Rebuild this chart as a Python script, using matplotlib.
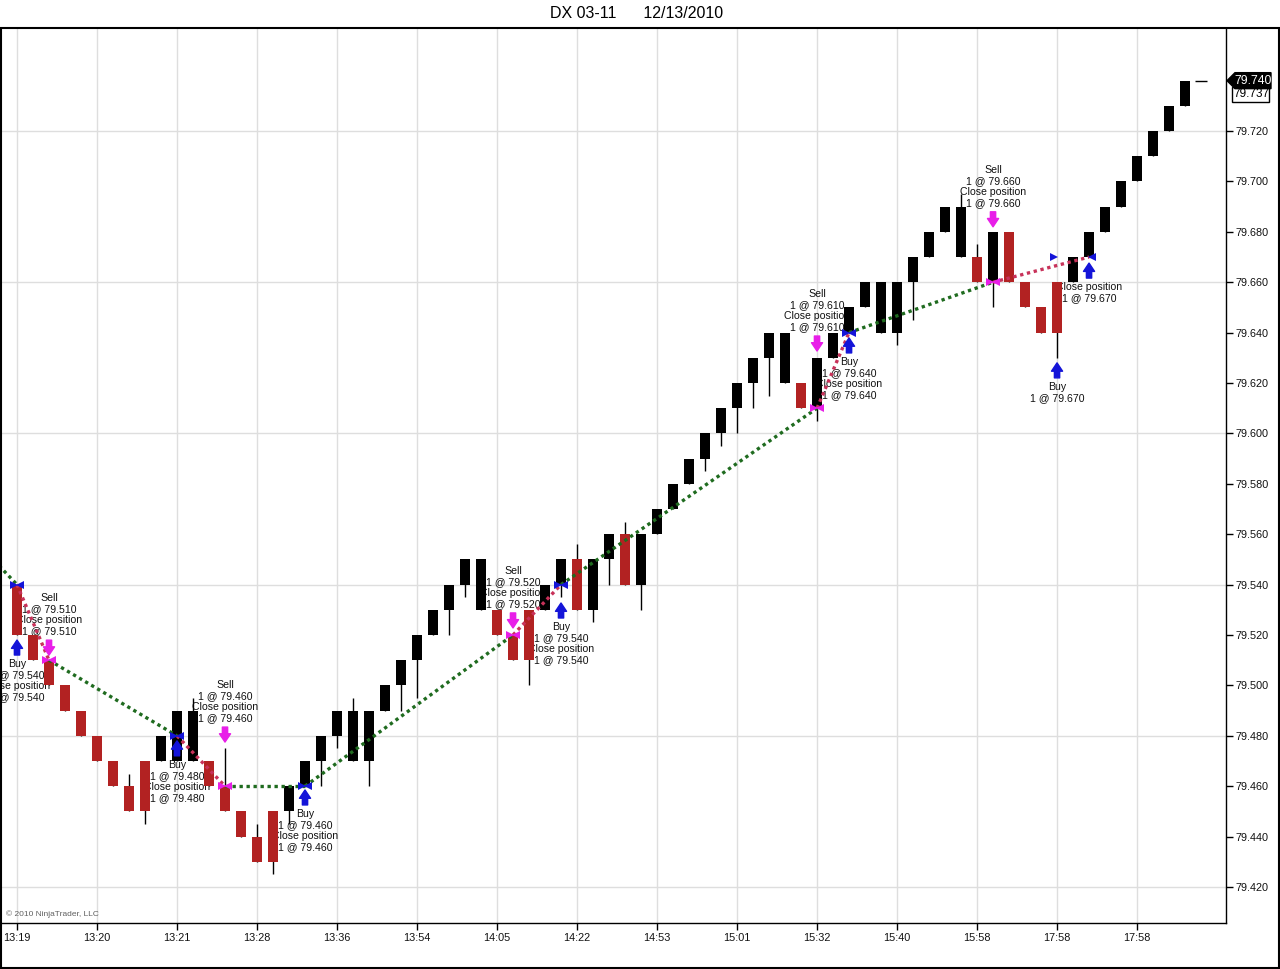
import matplotlib
matplotlib.use("Agg")
import matplotlib.pyplot as plt
import numpy as np
from matplotlib.patches import Polygon, Rectangle

plt.rcParams['font.family'] = ['Liberation Sans', 'DejaVu Sans']

# renko bars: open / close, plus wick extremes where they stick out
opens = [79.54, 79.52, 79.51, 79.50, 79.49, 79.48, 79.47, 79.46, 79.47, 79.47,
         79.47, 79.47, 79.47, 79.46, 79.45, 79.44, 79.45, 79.45, 79.46, 79.47,
         79.48, 79.47, 79.47, 79.49, 79.50, 79.51, 79.52, 79.53, 79.54, 79.53,
         79.53, 79.52, 79.53, 79.53, 79.54, 79.55, 79.53, 79.55, 79.56, 79.54,
         79.56, 79.57, 79.58, 79.59, 79.60, 79.61, 79.62, 79.63, 79.62, 79.62,
         79.61, 79.63, 79.64, 79.65, 79.64, 79.64, 79.66, 79.67, 79.68, 79.67,
         79.67, 79.66, 79.68, 79.66, 79.65, 79.66, 79.66, 79.67, 79.68, 79.69,
         79.70, 79.71, 79.72, 79.73, 79.74]
closes = [79.52, 79.51, 79.50, 79.49, 79.48, 79.47, 79.46, 79.45, 79.45, 79.48,
          79.49, 79.49, 79.46, 79.45, 79.44, 79.43, 79.43, 79.46, 79.47, 79.48,
          79.49, 79.49, 79.49, 79.50, 79.51, 79.52, 79.53, 79.54, 79.55, 79.55,
          79.52, 79.51, 79.51, 79.54, 79.55, 79.53, 79.55, 79.56, 79.54, 79.56,
          79.57, 79.58, 79.59, 79.60, 79.61, 79.62, 79.63, 79.64, 79.64, 79.61,
          79.63, 79.64, 79.65, 79.66, 79.66, 79.66, 79.67, 79.68, 79.69, 79.69,
          79.66, 79.68, 79.66, 79.65, 79.64, 79.64, 79.67, 79.68, 79.69, 79.70,
          79.71, 79.72, 79.73, 79.74, 79.74]
wick_highs = {7: 79.465, 11: 79.495, 13: 79.475, 15: 79.445, 21: 79.495,
              35: 79.556, 38: 79.565, 59: 79.695, 60: 79.675}
wick_lows = {8: 79.445, 16: 79.425, 17: 79.445, 19: 79.46, 20: 79.475, 22: 79.46,
             24: 79.49, 25: 79.495, 27: 79.52, 28: 79.535, 32: 79.50, 34: 79.535,
             36: 79.525, 37: 79.54, 39: 79.53, 43: 79.585, 44: 79.595, 45: 79.60,
             46: 79.61, 47: 79.615, 50: 79.605, 55: 79.635, 56: 79.645, 61: 79.65,
             65: 79.63}

time_labels = ['13:19', '13:20', '13:21', '13:28', '13:36', '13:54', '14:05', '14:22',
               '14:53', '15:01', '15:32', '15:40', '15:58', '17:58', '17:58']

# executions (bar index, price, side)
exec_bars = [-3, 0, 2, 10, 13, 18, 31, 34, 50, 52, 61, 67]
exec_prices = [79.56, 79.54, 79.51, 79.48, 79.46, 79.46, 79.52, 79.54, 79.61, 79.64, 79.66, 79.67]
exec_sides = ['sell', 'buy', 'sell', 'buy', 'sell', 'buy', 'sell', 'buy', 'sell', 'buy', 'sell', 'buy']
pending_bar, pending_price = 65, 79.67

# signal arrows and their text
sig_bars = [0, 2, 10, 13, 18, 31, 34, 50, 52, 61, 65, 67]
sig_sides = ['buy', 'sell', 'buy', 'sell', 'buy', 'sell', 'buy', 'sell', 'buy', 'sell', 'buy', 'buy']
sig_levels = [79.518, 79.512, 79.478, 79.4775, 79.4585, 79.5228, 79.5327, 79.6327,
              79.6379, 79.682, 79.628, 79.6676]
sig_texts = ['Buy\n1 @ 79.540\nClose position\n1 @ 79.540',
             'Sell\n1 @ 79.510\nClose position\n1 @ 79.510',
             'Buy\n1 @ 79.480\nClose position\n1 @ 79.480',
             'Sell\n1 @ 79.460\nClose position\n1 @ 79.460',
             'Buy\n1 @ 79.460\nClose position\n1 @ 79.460',
             'Sell\n1 @ 79.520\nClose position\n1 @ 79.520',
             'Buy\n1 @ 79.540\nClose position\n1 @ 79.540',
             'Sell\n1 @ 79.610\nClose position\n1 @ 79.610',
             'Buy\n1 @ 79.640\nClose position\n1 @ 79.640',
             'Sell\n1 @ 79.660\nClose position\n1 @ 79.660',
             'Buy\n1 @ 79.670',
             'Close position\n1 @ 79.670']

last_price = 79.740
prev_price = 79.737

BUY_C = '#1414d8'
SELL_C = '#e81ee8'
W, H = 1280, 969

fig = plt.figure(figsize=(W / 100, H / 100), dpi=100)
ax = fig.add_axes([2 / W, 1 - 923 / H, 1224 / W, 895 / H])

n = len(opens)
x = np.arange(n)
o = np.array(opens)
c = np.array(closes)
hi = np.maximum(o, c)
lo = np.minimum(o, c)
for k, v in wick_highs.items():
    hi[k] = v
for k, v in wick_lows.items():
    lo[k] = v

# grid
for t in range(0, n, 5):
    ax.axvline(t, color='#dedede', lw=1, zorder=0)
for p in np.arange(79.42, 79.75, 0.06):
    ax.axhline(p, color='#dedede', lw=1, zorder=0)

# wicks and bodies
ax.vlines(x, lo, hi, color='black', lw=1, zorder=3)
up = c > o
dn = c < o
ax.bar(x[up], (c - o)[up], bottom=o[up], width=0.66, color='black', zorder=4)
ax.bar(x[dn], (c - o)[dn], bottom=o[dn], width=0.66, color='#b22222', zorder=4)
flat = c == o
ax.hlines(o[flat], x[flat] - 0.35, x[flat] + 0.35, color='black', lw=1, zorder=4)

# trade lines
for i in range(len(exec_bars) - 1):
    p0, p1 = exec_prices[i], exec_prices[i + 1]
    pnl = (p1 - p0) if exec_sides[i] == 'buy' else (p0 - p1)
    col = '#1f6b1f' if pnl >= -1e-9 else '#c8325a'
    ax.plot([exec_bars[i], exec_bars[i + 1]], [p0, p1], color=col, lw=2.4,
            linestyle=(0, (1, 1.1)), zorder=6)

# execution markers
for i, (b, p, s) in enumerate(zip(exec_bars, exec_prices, exec_sides)):
    col = BUY_C if s == 'buy' else SELL_C
    if i < len(exec_bars) - 1:
        ax.plot(b - 0.17, p, marker='>', ms=5.5, color=col, mew=0, zorder=7)
    ax.plot(b + 0.17, p, marker='<', ms=5.5, color=col, mew=0, zorder=7)
ax.plot(pending_bar - 0.17, pending_price, marker='>', ms=5.5, color=BUY_C, mew=0, zorder=7)

# signal arrows + texts
for b, s, lvl, txt in zip(sig_bars, sig_sides, sig_levels, sig_texts):
    if s == 'buy':
        col, tail, toff, va = BUY_C, -15, -19, 'top'
    else:
        col, tail, toff, va = SELL_C, 15, 19, 'bottom'
    ax.annotate('', xy=(b, lvl), xytext=(0, tail), textcoords='offset pixels',
                arrowprops=dict(arrowstyle='simple,head_length=0.6,head_width=0.8,tail_width=0.38',
                                color=col, shrinkA=0, shrinkB=0, mutation_scale=10),
                zorder=8, annotation_clip=False)
    ax.annotate(txt, xy=(b, lvl), xytext=(0, toff), textcoords='offset pixels',
                ha='center', va=va, fontsize=7.6, linespacing=1.13, color='#111111',
                zorder=2, annotation_clip=False)

ax.set_xlim(-0.9375, 75.56)
ax.set_ylim(79.4057, 79.7609)
ax.set_xticks(range(0, n - 1, 5))
ax.set_xticklabels(time_labels)
ax.set_yticks(np.arange(79.42, 79.725, 0.02))
ax.set_yticklabels([f'{v:.3f}' for v in np.arange(79.42, 79.725, 0.02)])
ax.yaxis.tick_right()
ax.tick_params(axis='both', labelsize=7.8, length=5, width=1, color='black',
               labelcolor='#111111', pad=2)
for side in ('top', 'left'):
    ax.spines[side].set_visible(False)
for side in ('bottom', 'right'):
    ax.spines[side].set_color('black')
    ax.spines[side].set_linewidth(1)

# outer frame and title
fig.add_artist(Rectangle((0.8 / W, 1 - 967.5 / H), 1278 / W, 940 / H, transform=fig.transFigure,
                         fill=False, ec='black', lw=1.5))
fig.text(637 / W, 1 - 13 / H, 'DX 03-11      12/13/2010', ha='center', va='center', fontsize=11.5)
ax.text(0.003, 0.006, '\u00a9 2010 NinjaTrader, LLC', transform=ax.transAxes, fontsize=6,
        color='#606060', va='bottom')

# last-price tags on the right scale
fig.canvas.draw()
yl = ax.transData.transform((0, last_price))[1]
yp = ax.transData.transform((0, prev_price))[1] - 6
fig.add_artist(Rectangle((1232 / W, (yp - 7.5) / H), 37 / W, 15 / H, transform=fig.transFigure,
                         fc='white', ec='black', lw=1))
fig.text(1251 / W, yp / H, f'{prev_price:.3f}', ha='center', va='center', fontsize=8.5, color='black')
tag = [(1227, yl), (1235, yl + 8), (1271, yl + 8), (1271, yl - 8), (1235, yl - 8)]
fig.add_artist(Polygon([(px / W, py / H) for px, py in tag], closed=True, transform=fig.transFigure,
                       fc='black', ec='black'))
fig.text(1253 / W, yl / H, f'{last_price:.3f}', ha='center', va='center', fontsize=8.8, color='white')

fig.savefig('out.png', dpi=100)
